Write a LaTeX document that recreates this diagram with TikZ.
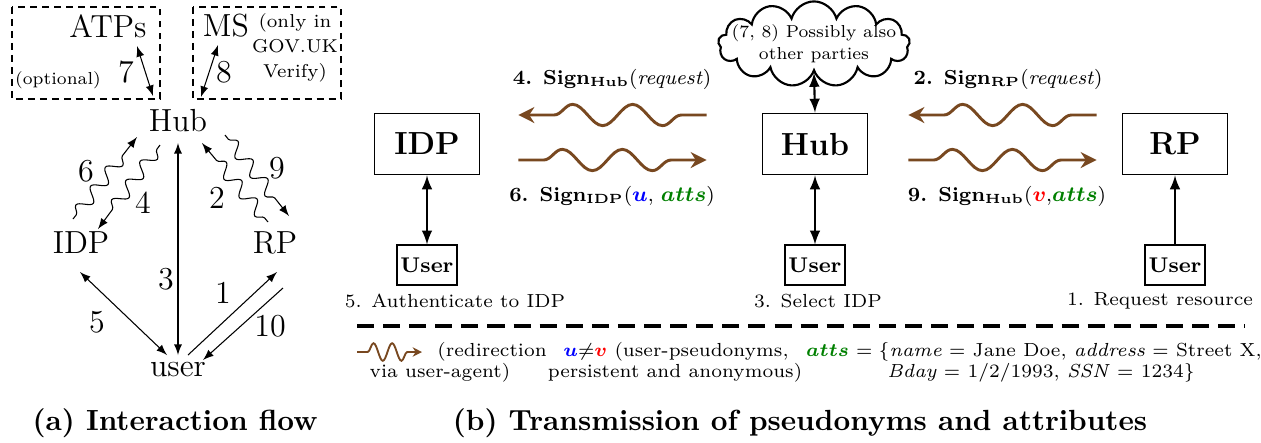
\documentclass[tikz,border=0pt]{standalone}
\usepackage{amsmath}
\usetikzlibrary{positioning,calc,decorations.pathmorphing,shapes.symbols,arrows.meta}
\definecolor{redirbrown}{RGB}{120,72,32}
\definecolor{attgreen}{RGB}{0,128,0}
\newcommand{\pseudu}{\textcolor{blue}{$\boldsymbol{u}$}}
\newcommand{\pseudv}{\textcolor{red}{$\boldsymbol{v}$}}
\newcommand{\attsym}{\textcolor{attgreen}{$\boldsymbol{atts}$}}
\begin{document}
\begin{tikzpicture}[x=0.0132cm, y=-0.0132cm, node distance=1.6cm, >=latex,
        lbl/.style={font=\fontsize{12}{14}\selectfont},
        notetext/.style={font=\fontsize{7}{9.4}\selectfont, align=center},
        cloudtext/.style={font=\fontsize{6.5}{8.3}\selectfont, align=center},
        smalltext/.style={font=\fontsize{7.1}{8.5}\selectfont},
        party/.style={draw, semithick, rectangle, minimum width=39.5pt, minimum height=23pt, font=\fontsize{12}{14}\selectfont\bfseries},
        userbox/.style={draw, semithick, rectangle, minimum width=22.5pt, minimum height=15pt, inner sep=1pt, font=\fontsize{8}{10}\selectfont\bfseries},
        msg/.style={font=\fontsize{7.6}{9}\selectfont},
        flow/.style={->, decorate, decoration={snake, amplitude=2.4pt, segment length=9pt, pre length=2pt, post length=5pt}},
        redirect/.style={draw=redirbrown, line width=1.1pt, -{Stealth[length=6pt, width=6pt]}, decorate, decoration={snake, amplitude=4pt, segment length=22.5pt, pre length=9.5pt, post length=8pt}},
        legwave/.style={draw=redirbrown, line width=0.7pt, -{Stealth[length=3.5pt, width=3.5pt]}, decorate, decoration={snake, amplitude=3.3pt, segment length=7pt, pre length=4pt, post length=4pt}},
        dashbox/.style={thick, dash pattern=on 2.6pt off 1.9pt},
        subcap/.style={font=\fontsize{10.95}{13}\selectfont\bfseries}]
        \useasboundingbox (0,0) rectangle (1261,442);

        \node[lbl] (hubL) at (178,121) {Hub};
        \node[lbl] (idpL) at (81,243) {IDP};
        \node[lbl] (rpL) at (275,243) {RP};
        \node[lbl] (userL) at (178,370) {user};
        \node[lbl] (atps) at (108,26) {ATPs};
        \node[lbl] (ms) at (226,26) {MS};
        \node[cloudtext] (optional) at (58,80) {(optional)};
        \node[notetext] (govuk) at (295,48) {(only in\\GOV.UK\\Verify)};
        \draw[dashbox] (12,7) rectangle (160,99);
        \draw[dashbox] (193,7) rectangle (341,99);

        \node[lbl] (n7) at (126,72) {7};
        \node[lbl] (n8) at (224,72) {8};
        \node[lbl] (n6) at (86,171) {6};
        \node[lbl] (n4) at (143,203) {4};
        \node[lbl] (n2) at (217,198) {2};
        \node[lbl] (n9) at (277,168) {9};
        \node[lbl] (n3) at (166,279) {3};
        \node[lbl] (n5) at (97,322) {5};
        \node[lbl] (n1) at (223,293) {1};
        \node[lbl] (n10) at (270,326) {10};

        \draw[<->] ($(atps)+(29,20)$) -- ($(hubL)+(-25,-25)$);
        \draw[<->] ($(ms)+(-8,19)$) -- ($(hubL)+(23,-24)$);
        \draw[flow] ($(idpL)+(-8,-24)$) -- ($(hubL)+(-41,16)$);
        \draw[flow] ($(hubL)+(-18,24)$) -- ($(idpL)+(17,-14)$);
        \draw[flow] ($(rpL)+(-7,-21)$) -- ($(hubL)+(24,22)$);
        \draw[flow] ($(hubL)+(47,14)$) -- ($(rpL)+(14,-27)$);
        \draw[<->] ($(userL)+(0,-15)$) -- ($(hubL)+(0,22)$);
        \draw[<->] ($(idpL)+(-1,29)$) -- ($(userL)+(-11,-15)$);
        \draw[->] ($(userL)+(10,-15)$) -- ($(rpL)+(2,29)$);
        \draw[->] ($(rpL)+(8,45)$) -- ($(userL)+(25,-10)$);

        \node[party] (idpR) at (427,144) {IDP};
        \node[party] (hubR) at (815,144) {Hub};
        \node[party] (rpR) at (1175,144) {RP};
        \node[userbox, below of=idpR] (userI) {User};
        \node[userbox, below of=hubR] (userH) {User};
        \node[userbox, below of=rpR] (userP) {User};
        \node[smalltext] (step5) at (455,301) {5. Authenticate to IDP};
        \node[smalltext] (step3) at (818,301) {3. Select IDP};
        \node[smalltext] (step1) at (1160,301) {1. Request resource};
        \node[cloud, draw, thick, cloud puffs=13, cloud ignores aspect, inner sep=0pt, minimum width=72pt, minimum height=32pt] (others) at (814,44) {};
        \node[cloudtext] (otherstxt) at (others) {(7, 8) Possibly also\\other parties};

        \draw[<->, thick] (others.south) -- (hubR.north);
        \draw[<->, thick] (idpR) -- (userI);
        \draw[<->, thick] (hubR) -- (userH);
        \draw[->, thick] (userP) -- (rpR);

        \draw[redirect] ($(hubR.west)+(-55,-29)$) -- ($(idpR.east)+(38,-29)$);
        \draw[redirect] ($(idpR.east)+(38,16)$) -- ($(hubR.west)+(-55,16)$);
        \draw[redirect] ($(rpR.west)+(-25,-29)$) -- ($(hubR.east)+(40,-29)$);
        \draw[redirect] ($(hubR.east)+(40,16)$) -- ($(rpR.west)+(-25,16)$);
        \node[msg] (sig4) at (612,79) {\textbf{4. Sign$_{\mathbf{Hub}}$}(\textit{request})};
        \node[msg] (sig6) at (612,196) {\textbf{6. Sign$_{\mathbf{IDP}}$}(\pseudu, \attsym)};
        \node[msg] (sig2) at (1008,79) {\textbf{2. Sign$_{\mathbf{RP}}$}(\textit{request})};
        \node[msg] (sig9) at (1007,196) {\textbf{9. Sign$_{\mathbf{Hub}}$}(\pseudv,\attsym)};

        \draw[line width=1.2pt, dash pattern=on 6.4pt off 3.4pt] (357,326) -- (1245,326);
        \node[smalltext, anchor=west] (redir1) at (428,352) {(redirection};
        \node[smalltext] (redir2) at (440,373) {via user-agent)};
        \draw[legwave] ($(redir1.west)+(-71,0)$) -- ($(redir1.west)+(-6,0)$);
        \node[smalltext] (pseud1) at (676,352) {\pseudu$\neq$\pseudv{} (user-pseudonyms,};
        \node[smalltext] (pseud2) at (675,373) {persistent and anonymous)};
        \node[smalltext] (attr1) at (1034,352) {\attsym{} $=\{$\textit{name} $=$ Jane Doe, \textit{address} $=$ Street X,};
        \node[smalltext] (attr2) at (1041,373) {\textit{Bday} $=$ 1/2/1993, \textit{SSN} $=$ 1234$\}$};

        \node[subcap] (capa) at (175,423) {(a) Interaction flow};
        \node[subcap] (capb) at (800,423) {(b) Transmission of pseudonyms and attributes};
\end{tikzpicture}
\end{document}
